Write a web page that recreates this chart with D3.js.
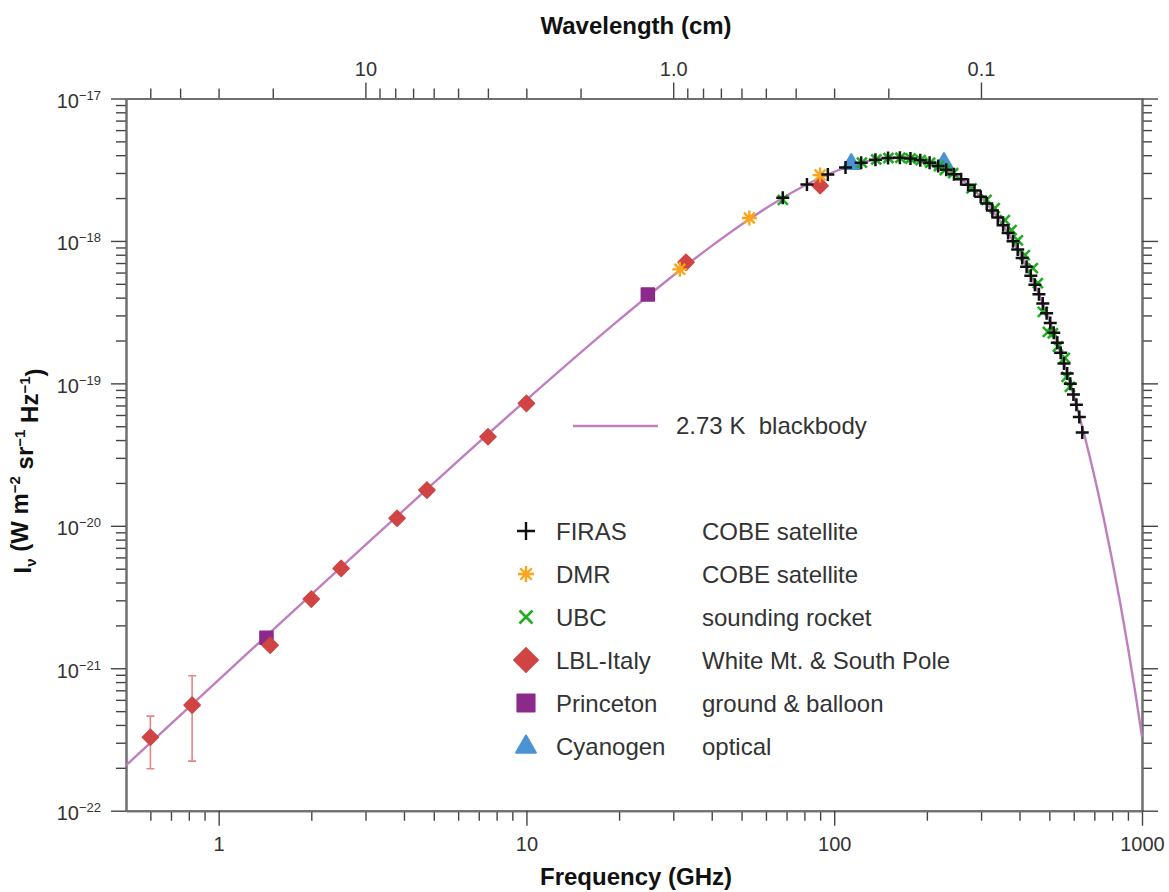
<!DOCTYPE html>
<html><head><meta charset="utf-8">
<script src="https://cdn.jsdelivr.net/npm/d3@7"></script>
<style>
html,body{margin:0;padding:0;background:#fff;}
svg{display:block;font-family:"Liberation Sans",Arial,sans-serif;}
</style></head><body>
<svg id="chart" width="1169" height="892"></svg>
<script>
// ---- data (frequency in GHz, intensity in W m^-2 sr^-1 Hz^-1) ----
const curveFreq = [0.5,1,2,3,5,10,20,30,40,50,60,80,100,120,140,160,180,200,250,300,350,400,450,500,550,600,650,700,750,800,850,900,950,1000];
const curveVal  = [2.08e-22,8.30e-22,3.29e-21,7.34e-21,2.00e-20,7.66e-20,2.79e-19,5.72e-19,9.23e-19,1.305e-18,1.697e-18,2.442e-18,3.060e-18,3.502e-18,3.757e-18,3.837e-18,3.770e-18,3.590e-18,2.856e-18,2.031e-18,1.333e-18,8.24e-19,4.86e-19,2.763e-19,1.525e-19,8.21e-20,4.32e-20,2.239e-20,1.142e-20,5.74e-21,2.856e-21,1.406e-21,6.85e-22,3.31e-22];

const firasFreq = [68.05,81.54,95.33,108.82,122.32,136.11,149.60,163.39,176.88,190.37,204.16,217.65,231.14,244.93,258.42,272.21,285.70,299.19,312.98,326.47,339.96,353.75,367.25,381.04,394.53,408.02,421.81,435.30,448.79,462.58,476.07,489.86,503.35,516.84,530.63,544.12,557.91,571.40,584.89,598.68,612.18,625.67,639.46];
const firasVal  = [2.007e-18,2.495e-18,2.930e-18,3.278e-18,3.541e-18,3.721e-18,3.815e-18,3.835e-18,3.789e-18,3.688e-18,3.541e-18,3.363e-18,3.161e-18,2.939e-18,2.714e-18,2.482e-18,2.259e-18,2.043e-18,1.833e-18,1.638e-18,1.458e-18,1.288e-18,1.136e-18,9.945e-19,8.704e-19,7.588e-19,6.577e-19,5.701e-19,4.922e-19,4.227e-19,3.635e-19,3.106e-19,2.658e-19,2.264e-19,1.926e-19,1.639e-19,1.381e-19,1.172e-19,9.921e-20,8.364e-20,7.087e-20,5.801e-20,4.523e-20];

const dmrFreq = [31.5,53,90];
const dmrVal  = [6.32e-19,1.45e-18,2.90e-18];

const ubcFreq = [68.1,123,137,150,164,177,191,205,219,228.8,243.5,279.4,312.6,332.5,358.4,376.9,395.1,416.4,442.0,458.9,476.3,494.5,513.3,532.9,561.5,568.9,583.1];
const ubcVal  = [1.94e-18,3.55e-18,3.73e-18,3.82e-18,3.84e-18,3.79e-18,3.69e-18,3.54e-18,3.35e-18,3.15e-18,2.99e-18,2.34e-18,1.94e-18,1.70e-18,1.40e-18,1.19e-18,1.01e-18,7.96e-19,6.45e-19,5.06e-19,3.18e-19,2.30e-19,2.25e-19,1.81e-19,1.51e-19,1.11e-19,9.46e-20];

const lblFreq = [0.6,0.82,1.47,2.0,2.5,3.8,4.75,7.5,10,33,90];
const lblVal  = [3.28e-22,5.51e-22,1.45e-21,3.06e-21,5.02e-21,1.13e-20,1.78e-20,4.22e-20,7.24e-20,7.08e-19,2.44e-18];
const lblErrLow  = [1.97e-22,2.23e-22,null,null,null,null,null,null,null,null,null];
const lblErrHigh = [4.61e-22,8.85e-22,null,null,null,null,null,null,null,null,null];

const princetonFreq = [1.43,24.8];
const princetonVal  = [1.64e-21,4.21e-19];

const cyanFreq = [113.6,227.3];
const cyanVal  = [3.47e-18,3.52e-18];

const legendNames = ["FIRAS","DMR","UBC","LBL-Italy","Princeton","Cyanogen"];
const legendDescs = ["COBE satellite","COBE satellite","sounding rocket","White Mt. & South Pole","ground & balloon","optical"];
const curveLabel = "2.73 K  blackbody";

const xMajor = [1,10,100,1000];
const xMinor = [0.6,0.7,0.8,0.9,2,3,4,5,6,7,8,9,20,30,40,50,60,70,80,90,200,300,400,500,600,700,800,900];
const yMajor = [1e-22,1e-21,1e-20,1e-19,1e-18,1e-17];
const wlMajor = [10,1,0.1];
const wlMajorLabels = ["10","1.0","0.1"];
const wlMinor = [50,40,30,20,9,8,7,6,5,4,3,2,0.9,0.8,0.7,0.6,0.5,0.4,0.3,0.2];

// ---- setup ----
const C_CM_GHZ = 29.9792458;
const svg = d3.select("#chart");
const L = 126, R = 1142, T = 98.5, B = 810.7;
const x = d3.scaleLog().domain([0.5,1000]).range([L,R]);
const y = d3.scaleLog().domain([1e-22,1e-17]).range([B,T]);
const xw = d3.scaleLog().domain([C_CM_GHZ/0.5, C_CM_GHZ/1000]).range([L,R]);

const yMinor = [];
yMajor.slice(0,-1).forEach(m => { for (let k=2;k<=9;k++) yMinor.push(m*k); });

const AX = "#6f6f6f", TK = "#444", TXT = "#333";

function styleAxis(g){
  g.select(".domain").attr("stroke",AX).attr("stroke-width",2);
  g.selectAll(".tick line").attr("stroke",TK).attr("stroke-width",1.4);
  g.selectAll(".tick text").attr("fill",TXT).attr("font-size",20).attr("font-family","Liberation Sans, Arial, sans-serif");
}

// bottom
svg.append("g").attr("transform",`translate(0,${B})`)
  .call(d3.axisBottom(x).tickValues(xMinor).tickSize(10).tickSizeOuter(0).tickFormat(""))
  .call(styleAxis);
svg.append("g").attr("transform",`translate(0,${B})`)
  .call(d3.axisBottom(x).tickValues(xMajor).tickSize(15).tickSizeOuter(0).tickPadding(11).tickFormat(d3.format("d")))
  .call(styleAxis);
// top (wavelength)
svg.append("g").attr("transform",`translate(0,${T})`)
  .call(d3.axisTop(xw).tickValues(wlMinor).tickSize(10).tickSizeOuter(0).tickFormat(""))
  .call(styleAxis);
svg.append("g").attr("transform",`translate(0,${T})`)
  .call(d3.axisTop(xw).tickValues(wlMajor).tickSize(16).tickSizeOuter(0).tickPadding(6.5).tickFormat((d,i)=>wlMajorLabels[i]))
  .call(styleAxis);
// left
svg.append("g").attr("transform",`translate(${L},0)`)
  .call(d3.axisLeft(y).tickValues(yMinor).tickSize(10).tickSizeOuter(0).tickFormat(""))
  .call(styleAxis);
const gl = svg.append("g").attr("transform",`translate(${L},0)`)
  .call(d3.axisLeft(y).tickValues(yMajor).tickSize(15).tickSizeOuter(0).tickPadding(10))
  .call(styleAxis);
gl.selectAll(".tick text").attr("dy","0.45em").each(function(d){
  const t = d3.select(this); t.text(null);
  t.append("tspan").text("10");
  t.append("tspan").attr("dy","-0.62em").attr("font-size",13).text("\u2212"+Math.round(-Math.log10(d)));
});
// right
svg.append("g").attr("transform",`translate(${R},0)`)
  .call(d3.axisRight(y).tickValues(yMinor).tickSize(10).tickSizeOuter(0).tickFormat(""))
  .call(styleAxis);
svg.append("g").attr("transform",`translate(${R},0)`)
  .call(d3.axisRight(y).tickValues(yMajor).tickSize(16).tickSizeOuter(0).tickFormat(""))
  .call(styleAxis);

// titles
svg.append("text").attr("x",636).attr("y",34).attr("text-anchor","middle")
  .attr("font-size",24).attr("font-weight","bold").attr("fill","#111").text("Wavelength (cm)");
svg.append("text").attr("x",636).attr("y",885).attr("text-anchor","middle")
  .attr("font-size",24).attr("font-weight","bold").attr("fill","#111").text("Frequency (GHz)");
const yt = svg.append("text").attr("transform","translate(31,471) rotate(-90)").attr("text-anchor","middle")
  .attr("font-size",24).attr("font-weight","bold").attr("fill","#111");
yt.append("tspan").text("I");
yt.append("tspan").attr("dy","0.3em").attr("font-size",15).text("\u03BD");
yt.append("tspan").attr("dy","-0.3em").text(" (W m");
yt.append("tspan").attr("dy","-0.55em").attr("font-size",15).text("\u22122");
yt.append("tspan").attr("dy","0.55em").text(" sr");
yt.append("tspan").attr("dy","-0.55em").attr("font-size",15).text("\u22121");
yt.append("tspan").attr("dy","0.55em").text(" Hz");
yt.append("tspan").attr("dy","-0.55em").attr("font-size",15).text("\u22121");
yt.append("tspan").attr("dy","0.55em").text(")");

// ---- curve ----
const CURVE = "#bf7fbf";
const curveData = curveFreq.map((f,i)=>({f, v:curveVal[i]}));
svg.append("path").datum(curveData)
  .attr("fill","none").attr("stroke",CURVE).attr("stroke-width",2.4)
  .attr("d", d3.line().x(d=>x(d.f)).y(d=>y(d.v)).curve(d3.curveMonotoneX));

// ---- markers ----
const RED="#d04444", ERR="#e98585", PURPLE="#8c2a8c", BLUE="#4b93d3", ORANGE="#fba61a", GREEN="#1fae1f";
const plusPath = s => `M${-s},0H${s}M0,${-s}V${s}`;
const xPath = s => `M${-s},${-s}L${s},${s}M${-s},${s}L${s},${-s}`;
const starPath = s => plusPath(s) + xPath(s*0.72);
const diamond = d3.symbol(d3.symbolSquare);
const square = d3.symbol(d3.symbolSquare);
const tri = d3.symbol(d3.symbolTriangle);

function drawDiamond(g, cx, cy, size){
  g.append("path").attr("d", diamond.size(size)()).attr("transform",`translate(${cx},${cy}) rotate(45)`)
   .attr("fill",RED).attr("stroke",RED).attr("stroke-width",1.5).attr("stroke-linejoin","round");
}
function drawSquare(g, cx, cy, size){
  g.append("path").attr("d", square.size(size)()).attr("transform",`translate(${cx},${cy})`)
   .attr("fill",PURPLE).attr("stroke",PURPLE).attr("stroke-width",1.5).attr("stroke-linejoin","round");
}
function drawTri(g, cx, cy, size){
  g.append("path").attr("d", tri.size(size)()).attr("transform",`translate(${cx},${cy})`)
   .attr("fill",BLUE).attr("stroke",BLUE).attr("stroke-width",2).attr("stroke-linejoin","round");
}
function drawStroke(g, cx, cy, d, color, w){
  g.append("path").attr("d", d).attr("transform",`translate(${cx},${cy})`)
   .attr("fill","none").attr("stroke",color).attr("stroke-width",w);
}

const gm = svg.append("g");
// error bars
lblFreq.forEach((f,i)=>{
  if (lblErrLow[i]==null) return;
  const cx = x(f), y0 = y(lblErrLow[i]), y1 = y(lblErrHigh[i]);
  gm.append("path").attr("d",`M${cx},${y0}V${y1}M${cx-4},${y0}H${cx+4}M${cx-4},${y1}H${cx+4}`)
    .attr("stroke",ERR).attr("stroke-width",1.6).attr("fill","none");
});
princetonFreq.forEach((f,i)=>drawSquare(gm, x(f), y(princetonVal[i]), 170));
lblFreq.forEach((f,i)=>drawDiamond(gm, x(f), y(lblVal[i]), 130));
cyanFreq.forEach((f,i)=>drawTri(gm, x(f), y(cyanVal[i]), 130));
dmrFreq.forEach((f,i)=>drawStroke(gm, x(f), y(dmrVal[i]), starPath(7.5), ORANGE, 2.4));
ubcFreq.forEach((f,i)=>drawStroke(gm, x(f), y(ubcVal[i]), xPath(5), GREEN, 2.6));
firasFreq.forEach((f,i)=>drawStroke(gm, x(f), y(firasVal[i]), plusPath(6.5), "#111", 2.5));

// ---- legend ----
const gLeg = svg.append("g");
gLeg.append("line").attr("x1",573).attr("x2",658).attr("y1",426).attr("y2",426)
  .attr("stroke",CURVE).attr("stroke-width",2.4);
gLeg.append("text").attr("x",676).attr("y",434).attr("font-size",24).attr("fill",TXT)
  .attr("xml:space","preserve").style("white-space","pre").text(curveLabel);

const rowY0 = 531, rowDy = 43, symX = 526;
legendNames.forEach((n,i)=>{
  const cy = rowY0 + i*rowDy;
  if (i===0) drawStroke(gLeg, symX, cy, plusPath(9), "#111", 2.4);
  if (i===1) drawStroke(gLeg, symX, cy, starPath(8), ORANGE, 2.4);
  if (i===2) drawStroke(gLeg, symX, cy, xPath(6.5), GREEN, 2.6);
  if (i===3) drawDiamond(gLeg, symX, cy, 300);
  if (i===4) drawSquare(gLeg, symX, cy, 310);
  if (i===5) drawTri(gLeg, symX, cy+1, 170);
  gLeg.append("text").attr("x",556).attr("y",cy+8.5).attr("font-size",24).attr("fill",TXT).text(n);
  gLeg.append("text").attr("x",702).attr("y",cy+8.5).attr("font-size",24).attr("fill",TXT).text(legendDescs[i]);
});
</script>
</body></html>
